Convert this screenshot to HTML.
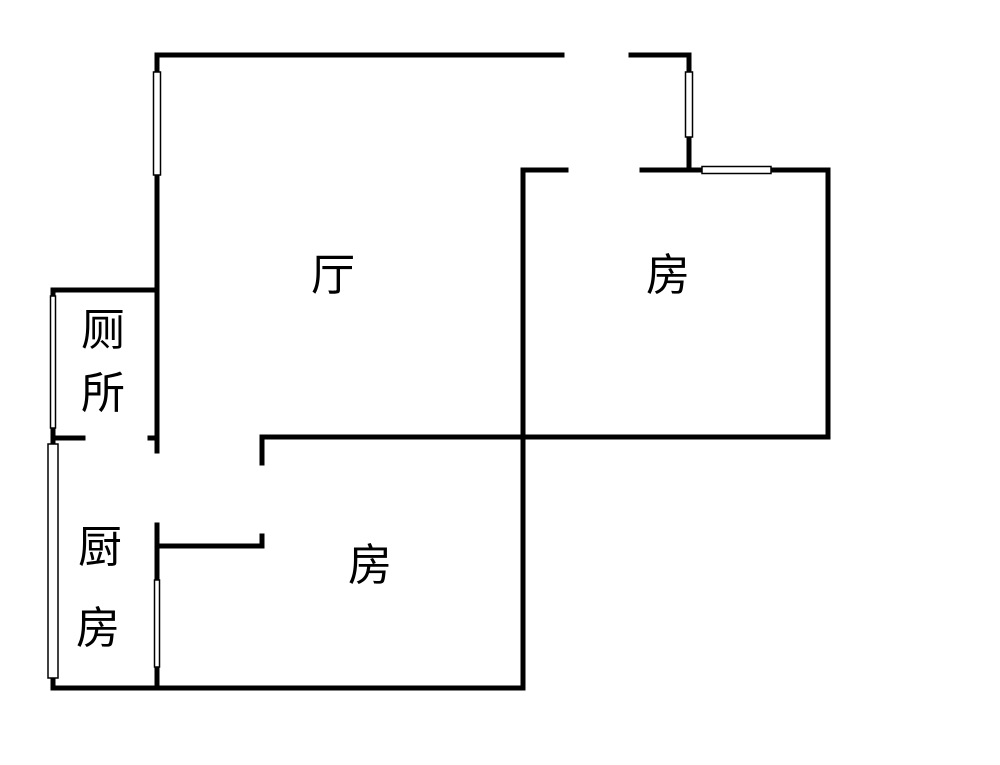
<!DOCTYPE html>
<html><head><meta charset="utf-8"><style>body{margin:0;background:#fff}svg{display:block}text{font-family:"Liberation Sans","Noto Sans CJK SC",sans-serif;font-size:44px;fill:#000;text-anchor:middle}</style></head><body>
<svg width="1000" height="765" viewBox="0 0 1000 765">
<g stroke="#000" stroke-width="5" fill="none" stroke-linecap="square">
<path d="M157 55H562M631 55H689V170"/>
<path d="M523 688V170H566M642 170H828V437H262V463"/>
<path d="M157 55V290M53 290H157V451"/>
<path d="M53 290V688H523"/>
<path d="M53 438H83M150 438H157"/>
<path d="M157 525V688M157 546H262V536"/>
</g>
<g fill="#fff" stroke="#000" stroke-width="1.5">
<rect x="685.5" y="72" width="7" height="65"/>
<rect x="702" y="166.5" width="69" height="7"/>
<rect x="153.5" y="72" width="7" height="103"/>
<rect x="50.5" y="296" width="5" height="132"/>
<rect x="48" y="444" width="10" height="234"/>
<rect x="154.5" y="580" width="5" height="87"/>
</g>
<text x="333" y="290">厅</text>
<text x="668" y="290">房</text>
<text x="370" y="580">房</text>
<text x="103" y="345">厕</text>
<text x="103" y="408">所</text>
<text x="100" y="562">厨</text>
<text x="98" y="643">房</text>
</svg>
</body></html>
